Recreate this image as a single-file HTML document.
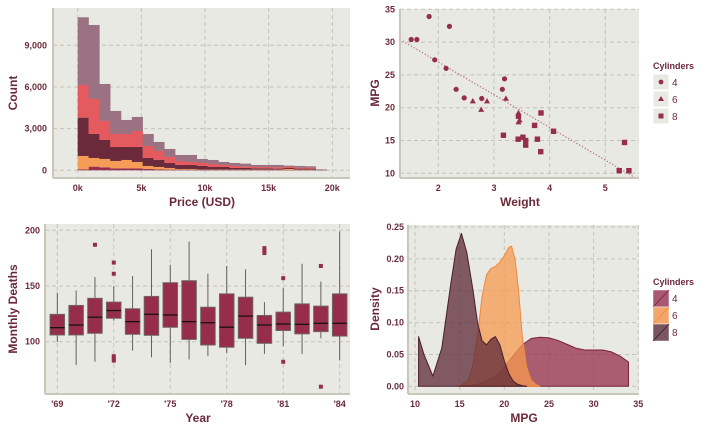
<!DOCTYPE html>
<html><head><meta charset="utf-8">
<style>
html,body{margin:0;padding:0;background:#fff;}
svg{display:block;font-family:"Liberation Sans",sans-serif;}
.tick{font-size:9px;font-weight:bold;fill:#6b2a3a;}
.title{font-size:12px;font-weight:bold;fill:#6b2a3a;}
.grid{stroke:#c4c3b8;stroke-width:1;stroke-dasharray:4,3;}
.leg{font-size:10px;fill:#6b2a3a;}
.legt{font-size:9px;font-weight:bold;fill:#6b2a3a;}
</style></head>
<body>
<svg id="chart" width="720" height="432" viewBox="0 0 720 432"></svg>
<script>
// ---- Histogram data (stacked layers, bottom -> top) ----
const histBinWidth = 0.85;
const histCrimson = [72,264,216,144,144,144,96,72,48,48,48,24,24,24,24,24,24,24,24,24,24,24,0];
const histOrange  = [960,624,600,528,600,456,216,168,120,48,48,24,24,24,24,24,24,24,24,72,24,24,0];
const histDark    = [2760,1728,1368,1008,936,1080,576,504,360,288,288,264,192,192,120,120,96,96,72,72,72,72,48];
const histRed     = [2352,2520,1368,936,936,1152,864,648,432,288,216,216,216,144,144,96,96,96,96,72,72,72,0];
const histMauve   = [4872,5328,2664,1656,1008,1008,864,648,576,432,504,288,288,216,216,216,144,144,168,96,120,96,0];
const histYTicks = [0,3000,6000,9000];
const histXTicks = [0,5,10,15,20];
const histXLabels = ["0k","5k","10k","15k","20k"];

// ---- Scatter data (mtcars) ----
const carWeight = [2.62,2.875,2.32,3.215,3.44,3.46,3.57,3.19,3.15,3.44,3.44,4.07,3.73,3.78,5.25,5.424,5.345,2.2,1.615,1.835,2.465,3.52,3.435,3.84,3.845,1.935,2.14,1.513,3.17,2.77,3.57,2.78];
const carMpg = [21,21,22.8,21.4,18.7,18.1,14.3,24.4,22.8,19.2,17.8,16.4,17.3,15.2,10.4,10.4,14.7,32.4,30.4,33.9,21.5,15.5,15.2,13.3,19.2,27.3,26,30.4,15.8,19.7,15,21.4];
const carCyl = [6,6,4,6,8,6,8,4,4,6,6,8,8,8,8,8,8,4,4,4,4,8,8,8,8,4,4,4,8,6,8,4];
const trendFit = [36.95,-4.99];
const scatXTicks = [2,3,4,5];
const scatYTicks = [10,15,20,25,30,35];

// ---- Boxplot data ----
const boxYears = [69,70,71,72,73,74,75,76,77,78,79,80,81,82,83,84];
const boxYearLabels = ["'69","'72","'75","'78","'81","'84"];
const boxQ1  = [106,106,107.5,121,106.6,105.7,112.9,102,97,95,103,98.5,110,107,109,105];
const boxMed = [112.6,115,122,128,118,124.6,124,118,117,113,123,115,115.9,115.6,116.5,116.5];
const boxQ3  = [124.6,132.6,139,135.6,129.6,140.7,153,154.8,131,143,140,123.6,126.6,134,132,143];
const boxLo  = [99.7,79,82,118.9,92,86,81,84,87,90,79,89,96,89,103,83.5];
const boxHi  = [144,146,158,150,159,183,169,190,161,168,165,135.6,148,170,154,199];
const boxOutYear = [71,72,72,72,72,72,80,80,80,81,81,83,83];
const boxOutVal  = [187,171,161,87,84.7,83,184,181.7,179.6,157,82,168,59.6];
const boxYTicks = [100,150,200];

// ---- Density data ----
const dens8X = [10.4,11,12,13,14,14.6,15.2,15.8,16.5,17,17.5,18,18.5,19,19.5,20,20.5,21,21.5,22,22.5];
const dens8Y = [0.078,0.05,0.016,0.06,0.16,0.215,0.24,0.21,0.15,0.1,0.072,0.065,0.074,0.078,0.065,0.04,0.02,0.008,0.003,0.001,0];
const dens6X = [15,16,16.5,17,17.5,18,18.5,19,19.5,20,20.5,20.8,21.2,21.6,22,22.5,23,23.5,24];
const dens6Y = [0,0.01,0.035,0.08,0.14,0.175,0.185,0.188,0.195,0.205,0.218,0.22,0.2,0.15,0.08,0.03,0.01,0.003,0];
const dens4X = [15,17,19,20,21,22,23,24,25,26,27,28,29,30,31,32,33,33.9];
const dens4Y = [0,0.003,0.015,0.03,0.048,0.065,0.075,0.077,0.076,0.072,0.066,0.06,0.057,0.057,0.057,0.054,0.047,0.038];
const densXTicks = [10,15,20,25,30,35];
const densYTicks = [0,0.05,0.10,0.15,0.20,0.25];
const densYLabels = ["0.00","0.05","0.10","0.15","0.20","0.25"];

const NS="http://www.w3.org/2000/svg";
const svg=document.getElementById('chart');
function mk(tag,attrs,parent){const e=document.createElementNS(NS,tag);for(const k in attrs)e.setAttribute(k,attrs[k]);(parent||svg).appendChild(e);return e;}
function txt(s,attrs,parent){const e=mk('text',attrs,parent);e.textContent=s;return e;}
function lin(d0,d1,r0,r1){return v=>r0+(v-d0)/(d1-d0)*(r1-r0);}

function panel(name,L,T,R,B){
  const g=mk('g',{});
  
  
  const bg=mk('rect',{x:L,y:T,width:R-L,height:B-T,fill:'#e8e9e3'},g);
  
  
  return g;
}
function axesLines(g,L,T,R,B){
  const a=mk('line',{x1:L,y1:T,x2:L,y2:B,stroke:'#c9c7ba','stroke-width':2},g);
  
  
  const b=mk('line',{x1:L,y1:B,x2:R,y2:B,stroke:'#c9c7ba','stroke-width':2},g);
  
  
}
function grids(g,L,T,R,B,xs,ys){
  xs.forEach(x=>{const l=mk('line',{x1:x,y1:T,x2:x,y2:B,class:'grid'},g);});
  ys.forEach(y=>{const l=mk('line',{x1:L,y1:y,x2:R,y2:y,class:'grid'},g);});
}
function ytitle(g,s,x,y){const t=txt(s,{x:x,y:y,class:'title','text-anchor':'middle',transform:`rotate(-90 ${x} ${y})`},g);}
function xtitle(g,s,x,y){const t=txt(s,{x:x,y:y,class:'title','text-anchor':'middle'},g);}

// ===== Panel 1: histogram =====
(function(){
  const L=53,T=8,R=350,B=178;
  const g=panel('price-histogram',L,T,R,B);
  const X=lin(0,20,77.7,332.3), Y=lin(0,9000,170.3,45.3);
  grids(g,L,T,R,B,histXTicks.map(X),histYTicks.map(Y));
  const layers=[[histCrimson,'#9a2f4c'],[histOrange,'#f59c57'],[histDark,'#6a2a3c'],[histRed,'#e45a5e'],[histMauve,'#9b7282']];
  const cum=histCrimson.map(()=>0);
  layers.forEach(([arr,col],li)=>{
    arr.forEach((v,i)=>{
      if(v<=0)return;
      const x0=X(i*histBinWidth),x1=X((i+1)*histBinWidth);
      const y0=Y(cum[i]),y1=Y(cum[i]+v);
      const r=mk('rect',{x:x0,y:y1,width:x1-x0+0.3,height:y0-y1,fill:col},g);
      
      
      cum[i]+=v;
    });
  });
  axesLines(g,L,T,R,B);
  histYTicks.forEach(v=>{const t=txt(v.toLocaleString('en-US'),{x:47,y:Y(v)+3,class:'tick','text-anchor':'end'},g);});
  histXTicks.forEach((v,i)=>{const t=txt(histXLabels[i],{x:X(v),y:191,class:'tick','text-anchor':'middle'},g);});
  ytitle(g,'Count',17,93); xtitle(g,'Price (USD)',202,206);
})();

// ===== Panel 2: scatter =====
(function(){
  const L=400,T=9,R=639,B=178;
  const g=panel('weight-mpg-scatter',L,T,R,B);
  const X=lin(2,5,438.3,605.3), Y=lin(10,35,173.3,9.3);
  grids(g,L,T,R,B,scatXTicks.map(X),scatYTicks.map(Y));
  const xa=1.31,xb=5.54;
  const tl=mk('line',{x1:X(xa),y1:Y(trendFit[0]+trendFit[1]*xa),x2:X(xb),y2:Y(trendFit[0]+trendFit[1]*xb),stroke:'#b56a7c','stroke-width':1.2,'stroke-dasharray':'1.2,2'},g);
  
  
  const col='#962e4b';
  carWeight.forEach((w,i)=>{
    const cx=X(w),cy=Y(carMpg[i]);let m;
    if(carCyl[i]===4) m=mk('circle',{cx:cx,cy:cy,r:2.6,fill:col},g);
    else if(carCyl[i]===6) m=mk('polygon',{points:`${cx},${cy-3.2} ${cx+3},${cy+2.2} ${cx-3},${cy+2.2}`,fill:col},g);
    else m=mk('rect',{x:cx-2.7,y:cy-2.7,width:5.4,height:5.4,fill:col},g);
    
    
  });
  axesLines(g,L,T,R,B);
  scatYTicks.forEach(v=>{const t=txt(v,{x:395,y:Y(v)+3,class:'tick','text-anchor':'end'},g);});
  scatXTicks.forEach(v=>{const t=txt(v,{x:X(v),y:191,class:'tick','text-anchor':'middle'},g);});
  ytitle(g,'MPG',379,93); xtitle(g,'Weight',520,206);
  const lg=mk('g',{},g);
  
  
  txt('Cylinders',{x:653,y:69,class:'legt'},lg);
  ['4','6','8'].forEach((s,i)=>{
    const y0=74+i*17;
    const k=mk('rect',{x:653,y:y0,width:16,height:16,fill:'#e8e9e3',stroke:'#fff','stroke-width':1},lg);
    
    
    const cx=661,cy=y0+8;
    if(i===0) mk('circle',{cx:cx,cy:cy,r:2.4,fill:col},lg);
    else if(i===1) mk('polygon',{points:`${cx},${cy-3} ${cx+3},${cy+2} ${cx-3},${cy+2}`,fill:col},lg);
    else mk('rect',{x:cx-2.5,y:cy-2.5,width:5,height:5,fill:col},lg);
    const t=txt(s,{x:672,y:cy+4,class:'leg'},lg);
    
    
  });
})();

// ===== Panel 3: boxplot =====
(function(){
  const L=45,T=224,R=350,B=394;
  const g=panel('monthly-deaths-boxplot',L,T,R,B);
  const X=lin(69,84,57.3,339.7), Y=lin(100,200,341.7,230.3);
  grids(g,L,T,R,B,[69,72,75,78,81,84].map(X),boxYTicks.map(Y));
  const hw=7.3;
  boxYears.forEach((yr,i)=>{
    const cx=X(yr);
    const w=mk('line',{x1:cx,y1:Y(boxLo[i]),x2:cx,y2:Y(boxHi[i]),stroke:'#5a5050','stroke-width':0.9},g);
    
    
    const b=mk('rect',{x:cx-hw,y:Y(boxQ3[i]),width:2*hw,height:Y(boxQ1[i])-Y(boxQ3[i]),fill:'#962e4b',stroke:'#6e6a66','stroke-width':0.9},g);
    
    
    const m=mk('line',{x1:cx-hw,y1:Y(boxMed[i]),x2:cx+hw,y2:Y(boxMed[i]),stroke:'#1a1012','stroke-width':1.3},g);
    
    
  });
  boxOutYear.forEach((yr,i)=>{
    const o=mk('rect',{x:X(yr)-2,y:Y(boxOutVal[i])-2,width:4,height:4,fill:'#962e4b'},g);
    
    
  });
  axesLines(g,L,T,R,B);
  boxYTicks.forEach(v=>{const t=txt(v,{x:40,y:Y(v)+3,class:'tick','text-anchor':'end'},g);});
  [69,72,75,78,81,84].forEach((v,i)=>{const t=txt(boxYearLabels[i],{x:X(v),y:407,class:'tick','text-anchor':'middle'},g);});
  ytitle(g,'Monthly Deaths',17,309); xtitle(g,'Year',198,422);
})();

// ===== Panel 4: density =====
(function(){
  const L=408,T=225,R=639,B=394;
  const g=panel('mpg-density',L,T,R,B);
  const X=lin(10,35,415,638.3), Y=lin(0,0.25,386.3,227);
  grids(g,L,T,R,B,densXTicks.map(X),densYTicks.map(Y));
  function area(xs,ys,fill,stroke,name){
    let d=`M${X(xs[0])},${Y(0)}`;
    xs.forEach((x,i)=>{d+=` L${X(x)},${Y(ys[i])}`;});
    d+=` L${X(xs[xs.length-1])},${Y(0)} Z`;
    const p=mk('path',{d:d,fill:fill,'fill-opacity':0.75,stroke:stroke,'stroke-width':1,'stroke-linejoin':'round'},g);
    
    
  }
  area(dens4X,dens4Y,'#962e4b','#7a2038','density-4-cyl');
  area(dens6X,dens6Y,'#f5994f','#f08a3a','density-6-cyl');
  area(dens8X,dens8Y,'#5e2838','#4a1f2c','density-8-cyl');
  axesLines(g,L,T,R,B);
  densYTicks.forEach((v,i)=>{const t=txt(densYLabels[i],{x:404,y:Y(v)+3,class:'tick','text-anchor':'end'},g);});
  densXTicks.forEach(v=>{const t=txt(v,{x:X(v),y:407,class:'tick','text-anchor':'middle'},g);});
  ytitle(g,'Density',379,309); xtitle(g,'MPG',524,422);
  const lg=mk('g',{},g);
  
  
  txt('Cylinders',{x:653,y:285,class:'legt'},lg);
  [['4','#a85870','#7a2038'],['6','#f3a66a','#f08a3a'],['8','#7a5460','#3a1820']].forEach(([s,f,st],i)=>{
    const y0=290+i*17;
    const k=mk('rect',{x:653,y:y0,width:16,height:17,fill:f,stroke:'#fff','stroke-width':0.5},lg);
    
    
    mk('line',{x1:653,y1:y0+17,x2:669,y2:y0,stroke:st,'stroke-width':0.8},lg);
    const t=txt(s,{x:672,y:y0+12,class:'leg'},lg);
    
    
  });
})();
</script>
</body></html>
